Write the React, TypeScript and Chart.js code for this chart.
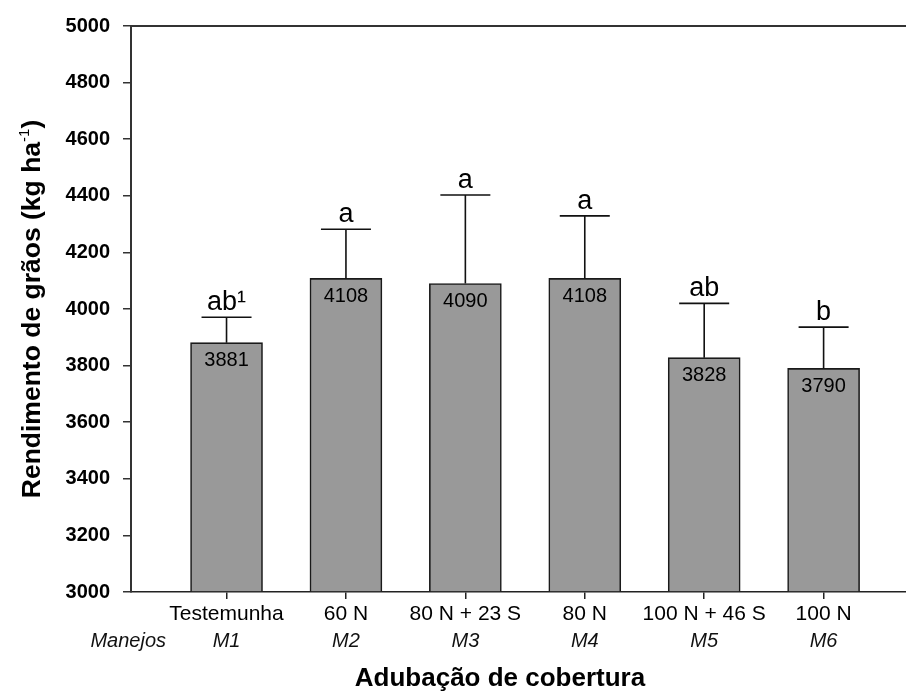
import React, { useEffect, useRef } from "react";
import { Chart, registerables } from "chart.js";

Chart.register(...registerables);

const categories = ["Testemunha", "60 N", "80 N + 23 S", "80 N", "100 N + 46 S", "100 N"];
const manejos = ["M1", "M2", "M3", "M4", "M5", "M6"];
const positions = [1, 2, 3, 4, 5, 6];
const yields = [3881, 4108, 4090, 4108, 3828, 3790];
const errors = [90, 174, 313, 221, 192, 146];
const letters = ["ab\u00B9", "a", "a", "a", "ab", "b"];
const yTicks = [3000, 3200, 3400, 3600, 3800, 4000, 4200, 4400, 4600, 4800, 5000];

const X_MIN = 0.2;
const X_MAX = 6.69;
const FONT = '"Liberation Sans", Arial, Helvetica, sans-serif';

const annotate = {
  id: "annotate",
  afterDatasetsDraw(chart: any) {
    const { ctx } = chart;
    const xs = chart.scales.x;
    const ys = chart.scales.y;
    ctx.save();
    positions.forEach((p, i) => {
      const px = xs.getPixelForValue(p);
      const top = ys.getPixelForValue(yields[i]);
      const eTop = ys.getPixelForValue(yields[i] + errors[i]);
      ctx.strokeStyle = "#111";
      ctx.lineWidth = 1.6;
      ctx.beginPath();
      ctx.moveTo(px, top);
      ctx.lineTo(px, eTop);
      ctx.moveTo(px - 25, eTop);
      ctx.lineTo(px + 25, eTop);
      ctx.stroke();
      ctx.fillStyle = "#000";
      ctx.textAlign = "center";
      ctx.textBaseline = "alphabetic";
      ctx.font = `27px ${FONT}`;
      ctx.fillText(letters[i], px, eTop - 7);
      ctx.font = `20px ${FONT}`;
      ctx.textBaseline = "middle";
      ctx.fillText(String(yields[i]), px, top + 18);
    });
    ctx.restore();
  },
  afterDraw(chart: any) {
    const { ctx, chartArea } = chart;
    ctx.save();
    ctx.fillStyle = "#000";
    const main = "Rendimento de grãos (kg ha";
    const sup = "-1";
    const close = ")";
    ctx.font = `bold 26.5px ${FONT}`;
    const w1 = ctx.measureText(main).width;
    const w3 = ctx.measureText(close).width;
    ctx.font = `15px ${FONT}`;
    const w2 = ctx.measureText(sup).width;
    const total = w1 + w2 + w3;
    ctx.translate(40, (chartArea.top + chartArea.bottom) / 2);
    ctx.rotate(-Math.PI / 2);
    ctx.textAlign = "left";
    ctx.textBaseline = "alphabetic";
    let cx = -total / 2;
    ctx.font = `bold 26.5px ${FONT}`;
    ctx.fillText(main, cx, 0);
    cx += w1;
    ctx.font = `15px ${FONT}`;
    ctx.fillText(sup, cx, -11);
    cx += w2;
    ctx.font = `bold 26.5px ${FONT}`;
    ctx.fillText(close, cx, 0);
    ctx.restore();

    ctx.save();
    ctx.fillStyle = "#000";
    ctx.font = `bold 26px ${FONT}`;
    ctx.textAlign = "center";
    ctx.textBaseline = "alphabetic";
    ctx.fillText("Adubação de cobertura", 500, 686);
    ctx.font = `italic 20px ${FONT}`;
    ctx.textAlign = "right";
    ctx.fillStyle = "#111";
    ctx.fillText("Manejos", 166, 647);
    ctx.restore();
  },
};

export default function App() {
  const ref = useRef<HTMLCanvasElement | null>(null);
  useEffect(() => {
    if (!ref.current) return;
    Chart.defaults.font.family = FONT;
    const setTicks = (values: number[]) => (scale: any) => {
      scale.ticks = values.map((v) => ({ value: v }));
    };
    const chart = new Chart(ref.current, {
      type: "bar",
      data: {
        datasets: [
          {
            data: positions.map((p, i) => ({ x: p, y: yields[i] })),
            backgroundColor: "#999999",
            borderColor: "#1a1a1a",
            borderWidth: 1.6,
            barThickness: 72,
            base: 3000,
            xAxisID: "x",
            yAxisID: "y",
          } as any,
        ],
      },
      options: {
        responsive: false,
        animation: false,
        devicePixelRatio: 1,
        layout: { padding: { left: 0, right: 0, top: 26, bottom: 0 } },
        plugins: { legend: { display: false }, tooltip: { enabled: false } },
        scales: {
          x: {
            type: "linear",
            position: "bottom",
            weight: 0,
            offset: false,
            min: X_MIN,
            max: X_MAX,
            afterBuildTicks: setTicks(positions),
            afterFit: (s: any) => {
              s.height = 34;
            },
            ticks: {
              callback: (_v: any, i: number) => categories[i],
              font: { size: 21 },
              color: "#000",
              padding: 3,
              maxRotation: 0,
              autoSkip: false,
            },
            grid: { offset: false, drawOnChartArea: false, drawTicks: true, tickLength: 7, color: "#222", tickColor: "#222", lineWidth: 1.5 },
            border: { color: "#222", width: 1.5 },
          },
          xm: {
            type: "linear",
            position: "bottom",
            weight: 1,
            offset: false,
            min: X_MIN,
            max: X_MAX,
            afterBuildTicks: setTicks(positions),
            afterFit: (s: any) => {
              s.height = 66;
            },
            ticks: {
              callback: (_v: any, i: number) => manejos[i],
              font: { size: 20, style: "italic" },
              color: "#111",
              padding: -5,
              maxRotation: 0,
              autoSkip: false,
            },
            grid: { display: false, offset: false },
            border: { display: false },
          },
          xTop: {
            type: "linear",
            position: "top",
            offset: false,
            min: X_MIN,
            max: X_MAX,
            afterFit: (s: any) => {
              s.height = 0;
            },
            ticks: { display: false },
            grid: { display: false },
            border: { display: true, color: "#333", width: 2 },
          },
          y: {
            type: "linear",
            position: "left",
            min: 3000,
            max: 5000,
            afterBuildTicks: setTicks(yTicks),
            afterFit: (s: any) => {
              s.width = 131;
            },
            ticks: {
              font: { size: 20, weight: "bold" },
              color: "#000",
              padding: 13,
              callback: (v: any) => String(v),
            },
            grid: { drawOnChartArea: false, drawTicks: true, tickLength: 8, color: "#333", lineWidth: 1.5 },
            border: { color: "#333", width: 2 },
          },
        },
      } as any,
      plugins: [annotate],
    });
    return () => chart.destroy();
  }, []);
  return (
    <div style={{ position: "absolute", left: 0, top: 0, width: 906, height: 692, background: "#fff" }}>
      <canvas ref={ref} width={906} height={692} style={{ display: "block" }} />
    </div>
  );
}
